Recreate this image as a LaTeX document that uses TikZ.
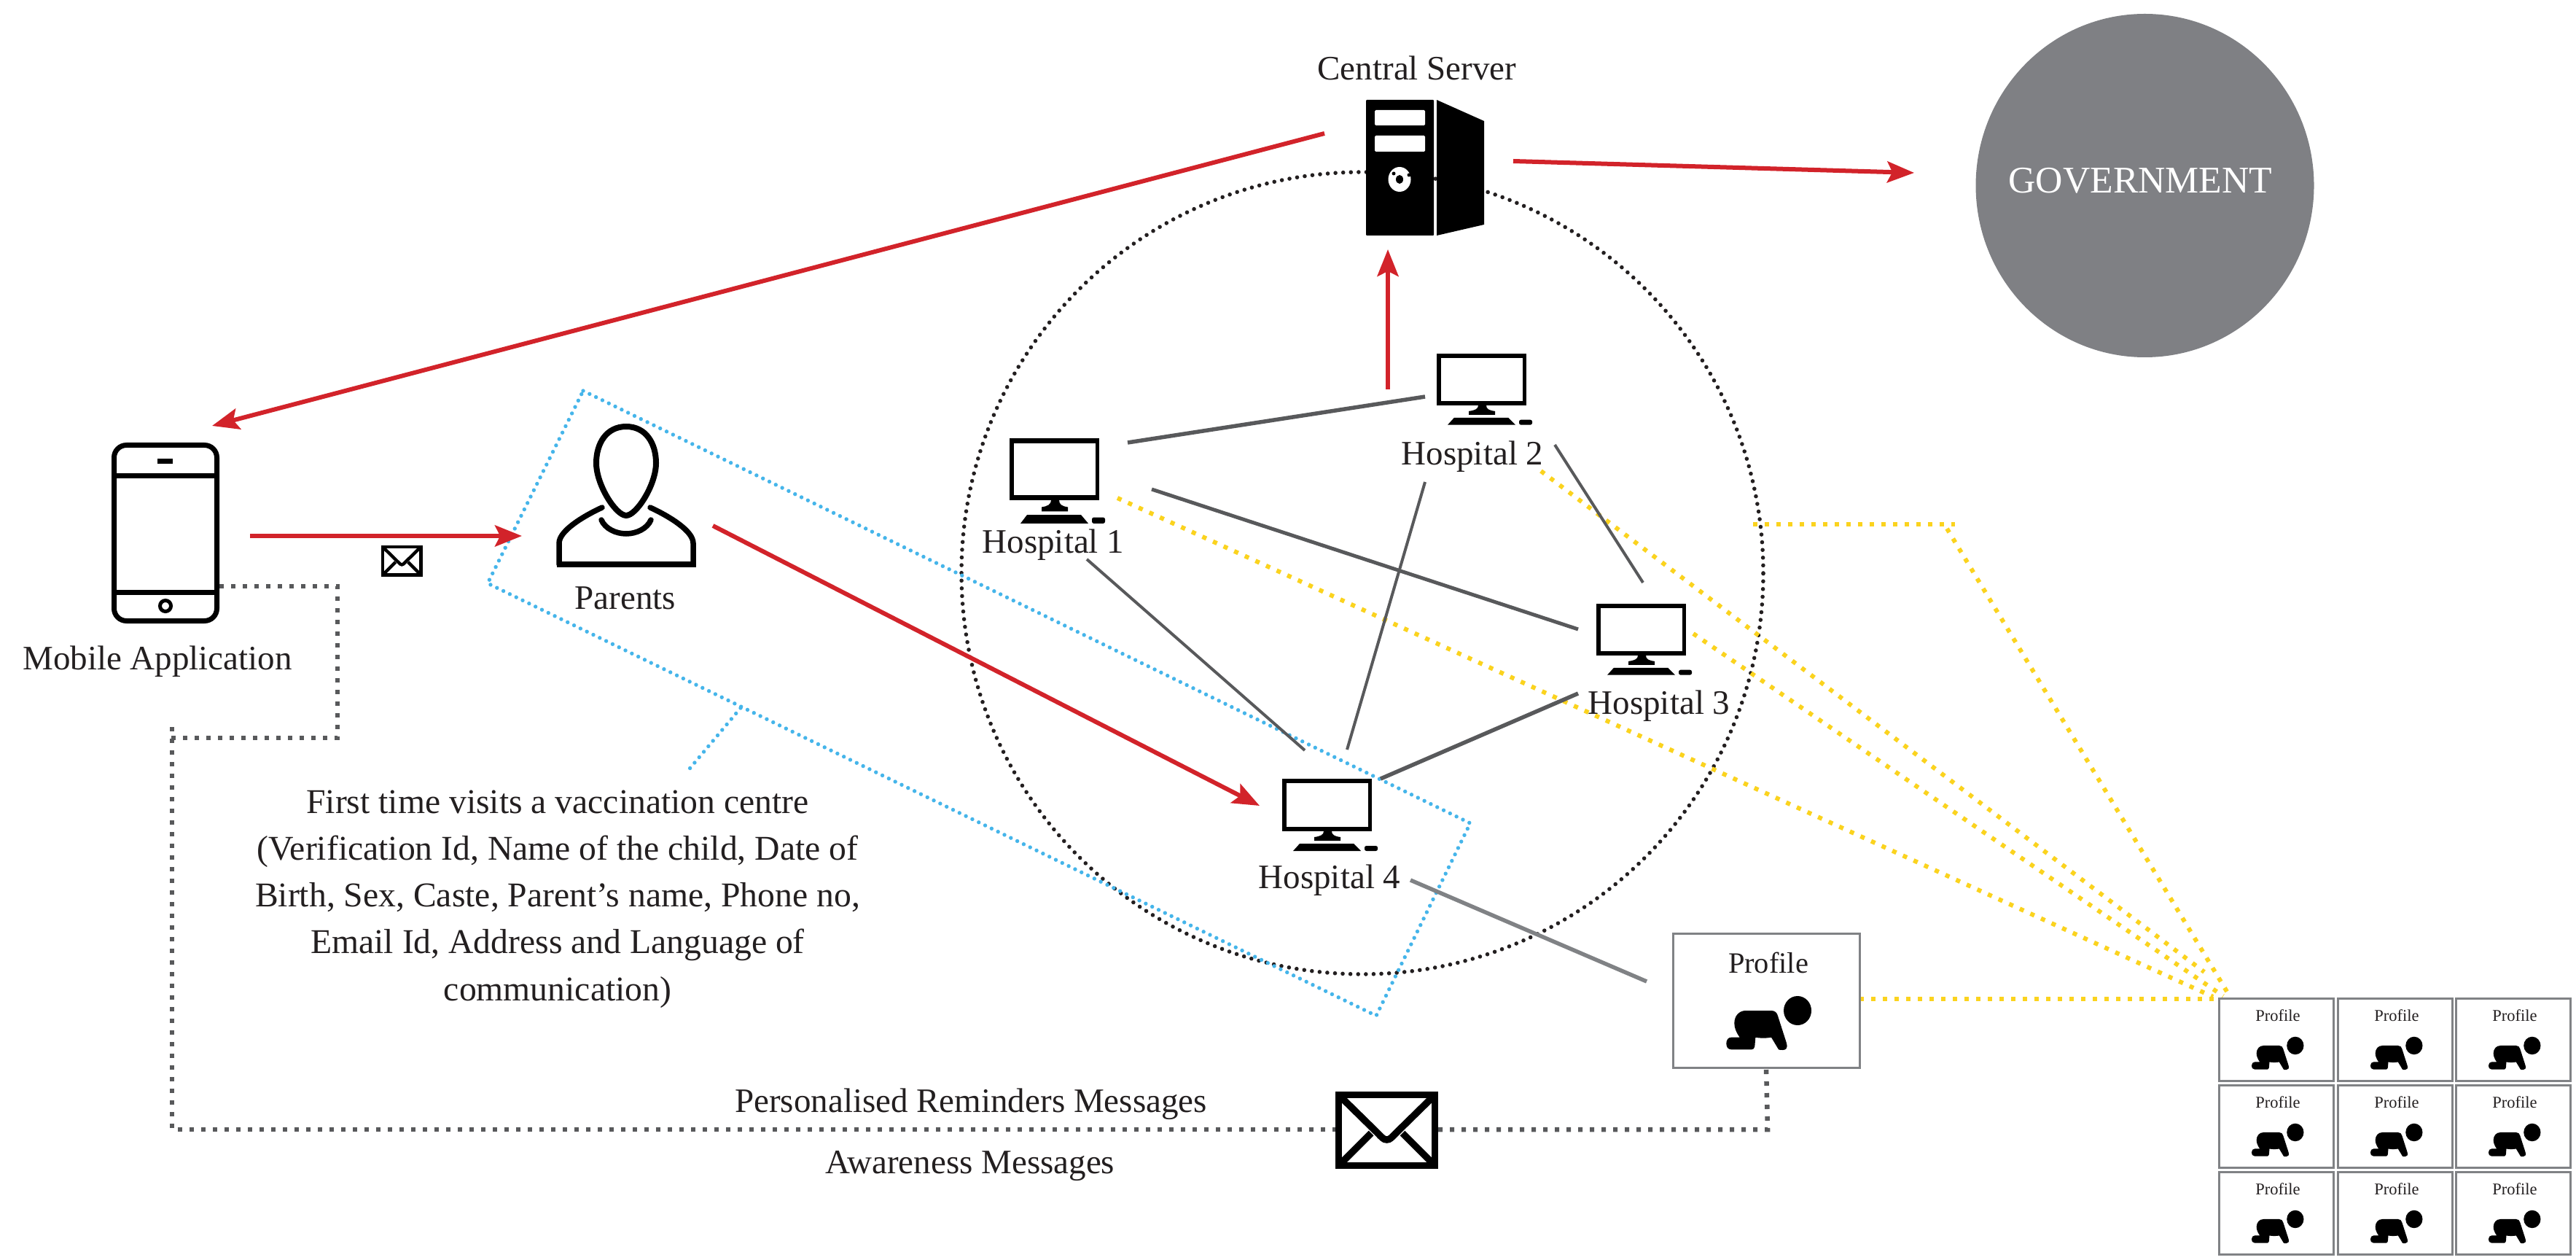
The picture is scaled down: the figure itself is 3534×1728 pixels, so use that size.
\documentclass[tikz,border=0pt]{standalone}
\usepackage{fontspec}
\setmainfont{Liberation Serif}
\usetikzlibrary{arrows.meta,shapes.geometric}
\newdimen\pxu \pxu=0.01cm
\definecolor{redline}{HTML}{D2232A}
\definecolor{grayline}{HTML}{58595B}
\definecolor{lightgrayline}{HTML}{808285}
\definecolor{blueline}{HTML}{45B5EA}
\definecolor{yellowline}{HTML}{FBD31E}
\definecolor{inktext}{HTML}{231F20}
\definecolor{govgray}{HTML}{7F8084}
\tikzset{
  lab/.style={inner sep=0pt,outer sep=0pt,anchor=base,yshift=-2\pxu,text=inktext,font=\fontsize{13.37pt}{18.12pt}\selectfont},
  redarrow/.style={draw=redline,line width=6\pxu,-{Stealth[length=10.5pt,width=8.25pt,inset=2pt]}},
  link/.style={draw=grayline,line width=#1\pxu},
  link/.default=4,
  blackdots/.style={draw=inktext,line width=5.6\pxu,line cap=round,dash pattern=on 0pt off 10.6\pxu},
  bluedots/.style={draw=blueline,line width=5.4\pxu,line cap=round,dash pattern=on 0pt off 9.8\pxu},
  yellowdots/.style={draw=yellowline,line width=6\pxu,dash pattern=on 6\pxu off 10\pxu},
  graydots/.style={draw=grayline,line width=6.5\pxu,dash pattern=on 6\pxu off 10\pxu},
  card/.style={draw=lightgrayline,line width=3\pxu,fill=white,inner sep=0pt,outer sep=0pt,anchor=north west},
}
\newcommand{\monitoricon}[3]{%
  \begin{scope}[shift={(#1,#2)},yscale=#3/72]
    \fill[black] (0,0) rectangle (123,72);
    \fill[white] (5.5,6) rectangle (117.5,66);
    \fill[black] (57,72) .. controls (57,77) and (52,79) .. (44,80) -- (44,85) -- (80,85) -- (80,80) .. controls (72,79) and (68,77) .. (68,72) -- cycle;
    \fill[black] (24,89) -- (98,89) -- (108,99) -- (15,99) -- cycle;
    \fill[black,rounded corners=2.5\pxu] (113,92) rectangle (131,99);
  \end{scope}}
\newcommand{\babyicon}[3]{%
  \begin{scope}[shift={(#1,#2)},scale=#3]
    \fill[black] (171,106) ellipse [x radius=19,y radius=20];
    \fill[black] (100,106) -- (135,106) .. controls (140,106) and (143,109) .. (144,113.3)
      -- (156,150.7) .. controls (158,157) and (155,160) .. (151,160) .. controls (148,160) and (146,160) .. (145,159.3)
      -- (135,142.7) .. controls (128,144) and (120,144) .. (113.3,142.7) -- (112.3,155)
      .. controls (112,158) and (110,159.3) .. (108.3,159.3) -- (80,159.3)
      .. controls (75,159.3) and (73.3,155) .. (73.3,151) .. controls (73.3,146) and (76,142.7) .. (80,142.7) -- (91.7,142.7)
      .. controls (87,136) and (84.3,130) .. (84.3,123.3) .. controls (84.3,113) and (91,106) .. (100,106) -- cycle;
  \end{scope}}
\newcommand{\mailicon}[4]{%
  \begin{scope}[shift={(#1,#2)},scale=#3]
    \draw[black,line width=#4\pxu] (4.5,4.5) rectangle (136.5,101.5);
    \draw[black,line width=#4\pxu] (6,6) -- (58,57) .. controls (64,63) and (66,66) .. (70.5,66) .. controls (75,66) and (77,63) .. (83,57) -- (135,6);
    \draw[black,line width=#4\pxu] (6,100) -- (49,57);
    \draw[black,line width=#4\pxu] (135,100) -- (92,57);
  \end{scope}}
\newcommand{\smallcard}[3]{%
  \node[card,minimum width=157\pxu,minimum height=113\pxu] (#1) at (#2,#3) {};
  \node[lab,font=\fontsize{6.4pt}{8pt}\selectfont] (#1t) at (#2+81,#3+29) {Profile};
  \babyicon{#2}{#3}{0.613}}
\begin{document}
\begin{tikzpicture}[x=0.01cm,y=-0.01cm]
\useasboundingbox (0,0) rectangle (3534,1728);
\fill[white] (0,0) rectangle (3534,1728);

% named end points
\coordinate (cs1) at (1817,183);   \coordinate (app1) at (291,584);
\coordinate (cs2) at (2076,221);   \coordinate (gov1) at (2626,237);
\coordinate (h2up) at (1904,534);  \coordinate (cs3) at (1904,342);
\coordinate (app2) at (343,735);   \coordinate (par1) at (716,735);
\coordinate (par2) at (978,721);   \coordinate (h4in) at (1728,1105);
\coordinate (a1) at (1547,607);    \coordinate (a2) at (1955,544);
\coordinate (b1) at (1580,671);    \coordinate (b2) at (2165,863);
\coordinate (c1) at (1491,767);    \coordinate (c2) at (1790,1029);
\coordinate (d1) at (1955,661);    \coordinate (d2) at (1848,1028);
\coordinate (e1) at (2133,610);    \coordinate (e2) at (2254,799);
\coordinate (f1) at (2165,951);    \coordinate (f2) at (1894,1068);
\coordinate (g1) at (1935,1207);   \coordinate (g2) at (2259,1346);
\coordinate (y1) at (1533,683);    \coordinate (y1e) at (3036,1367);
\coordinate (y2) at (2114,646);    \coordinate (y2e) at (3024,1333);
\coordinate (y3) at (2323,869);    \coordinate (y3e) at (3050,1366);
\coordinate (y4) at (2405,719);    \coordinate (y4m) at (2682,719);
\coordinate (y4s) at (2671,725);   \coordinate (y4e) at (3060,1368);
\coordinate (y5) at (2551,1370);   \coordinate (y5e) at (3040,1370);
\coordinate (bl1) at (1016,971);   \coordinate (bl2) at (942,1059);
\coordinate (m1) at (301,804);     \coordinate (m2) at (463,804);
\coordinate (m3) at (463,1012);    \coordinate (m4) at (231,1012);
\coordinate (m5) at (236,997);     \coordinate (m6) at (236,1549);
\coordinate (m7) at (1832,1549);   \coordinate (m8) at (1973,1549);
\coordinate (m9) at (2425,1549);

% government
\node[ellipse,fill=govgray,inner sep=0pt,outer sep=0pt,minimum width=464\pxu,minimum height=471\pxu] (gov) at (2942.5,254.5) {};
\node[lab,text=white,font=\fontsize{14.7pt}{18pt}\selectfont] (govt) at (2936.5,263) {GOVERNMENT};

% dotted hospital ring and the blue band
\node[circle,blackdots,inner sep=0pt,outer sep=0pt,minimum size=1100\pxu] (ring) at (1869,786) {};
\coordinate (q1) at (800,536);
\coordinate (q2) at (669,800);
\coordinate (q3) at (1888,1393);
\coordinate (q4) at (2017,1129);
\draw[bluedots] (q1) -- (q4) -- (q3) -- (q2) -- cycle;
\draw[bluedots] (bl1) -- (bl2);

% yellow dotted connectors
\draw[yellowdots] (y1) -- (y1e);
\draw[yellowdots] (y2) -- (y2e);
\draw[yellowdots] (y3) -- (y3e);
\draw[yellowdots] (y4) -- (y4m);
\draw[yellowdots] (y4s) -- (y4e);
\draw[yellowdots] (y5) -- (y5e);

% grey links
\draw[link=5.5] (a1) -- (a2);
\draw[link=5] (b1) -- (b2);
\draw[link=4] (c1) -- (c2);
\draw[link=4] (d1) -- (d2);
\draw[link=4] (e1) -- (e2);
\draw[link=5.5] (f1) -- (f2);
\draw[draw=lightgrayline,line width=5.5\pxu] (g1) -- (g2);

% profile cards
\node[card,minimum width=256\pxu,minimum height=184\pxu] (prof) at (2295,1280) {};
\node[lab,font=\fontsize{11.5pt}{14pt}\selectfont] (proft) at (2426,1332) {Profile};
\babyicon{2295}{1280}{1}
\smallcard{c11}{3044}{1369}
\smallcard{c12}{3207}{1369}
\smallcard{c13}{3369}{1369}
\smallcard{c21}{3044}{1488}
\smallcard{c22}{3207}{1488}
\smallcard{c23}{3369}{1488}
\smallcard{c31}{3044}{1607}
\smallcard{c32}{3207}{1607}
\smallcard{c33}{3369}{1607}

% grey dotted reminder path
\draw[graydots] (m1) -- (m2) -- (m3) -- (m4);
\draw[graydots] (m5) -- (m6) -- (m7);
\draw[graydots] (m8) -- (m9) -- (prof.south);
\mailicon{1832}{1497}{1}{9.5}
\mailicon{523}{748}{0.4}{4.4}

% red arrows
\draw[redarrow] (cs1) -- (app1);
\draw[redarrow] (cs2) -- (gov1);
\draw[redarrow] (h2up) -- (cs3);
\draw[redarrow] (app2) -- (par1);
\draw[redarrow] (par2) -- (h4in);

% central server
\fill[black,rounded corners=1\pxu] (1874,137) rectangle (1967,323);
\fill[black] (1971,137) -- (2036,166) -- (2036,308) -- (1971,323) -- cycle;
\fill[white,rounded corners=1.5\pxu] (1886,151) rectangle (1955,172);
\fill[white,rounded corners=1.5\pxu] (1886,186) rectangle (1955,208);
\fill[white] (1920,246) ellipse [x radius=15.5,y radius=17];
\fill[black] (1920,246) ellipse [x radius=5,y radius=6];
\fill[black] (1912,238) circle (2.5);
\fill[black] (1933,240) circle (2.5);

% hospitals
\monitoricon{1385}{601}{85}
\monitoricon{1971}{485}{71}
\monitoricon{2190}{828}{71}
\monitoricon{1759}{1068}{72}

% phone
\draw[black,line width=7\pxu,rounded corners=17\pxu] (156.5,610.5) rectangle (297.5,851.5);
\draw[black,line width=7\pxu] (156.5,652) -- (297.5,652);
\draw[black,line width=7\pxu] (156.5,812) -- (297.5,812);
\fill[black] (216,629) rectangle (237,636);
\draw[black,line width=5\pxu] (227,831) ellipse [x radius=7.5,y radius=7.5];

% parent
\draw[black,line width=8\pxu] (859,585) .. controls (832,585) and (818,608) .. (818,635) .. controls (818,665) and (845,707) .. (859,707) .. controls (873,707) and (900,665) .. (900,635) .. controls (900,608) and (886,585) .. (859,585) -- cycle;
\draw[black,line width=7.5\pxu,line cap=round] (826,696) .. controls (800,708) and (767,728) .. (767,745) -- (767,774);
\draw[black,line width=7.5\pxu,line cap=round] (892,696) .. controls (918,708) and (951,728) .. (951,745) -- (951,774);
\draw[black,line width=8\pxu] (763.5,774) -- (954.5,774);
\draw[black,line width=7.5\pxu,line cap=round] (825,713) .. controls (830,725) and (845,732) .. (859,732) .. controls (873,732) and (888,725) .. (893,713);

% labels
\node[lab] (lcs) at (1944,108) {Central Server};
\node[lab] (lh1) at (1445,756) {Hospital 1};
\node[lab] (lh2) at (2020,635) {Hospital 2};
\node[lab] (lh3) at (2276,977) {Hospital 3};
\node[lab] (lh4) at (1824,1216) {Hospital 4};
\node[lab] (lpar) at (858,833) {Parents};
\node[lab] (lapp) at (216,916) {Mobile Application};
\node[lab,align=center,font=\fontsize{13.55pt}{18.27pt}\selectfont] (lfirst) at (765,1370) {First time visits a vaccination centre\\(Verification Id, Name of the child, Date of\\Birth, Sex, Caste, Parent’s name, Phone no,\\Email Id, Address and Language of\\communication)};
\node[lab] (lrem) at (1332,1523) {Personalised Reminders Messages};
\node[lab] (lawa) at (1331,1607) {Awareness Messages};
\end{tikzpicture}
\end{document}
